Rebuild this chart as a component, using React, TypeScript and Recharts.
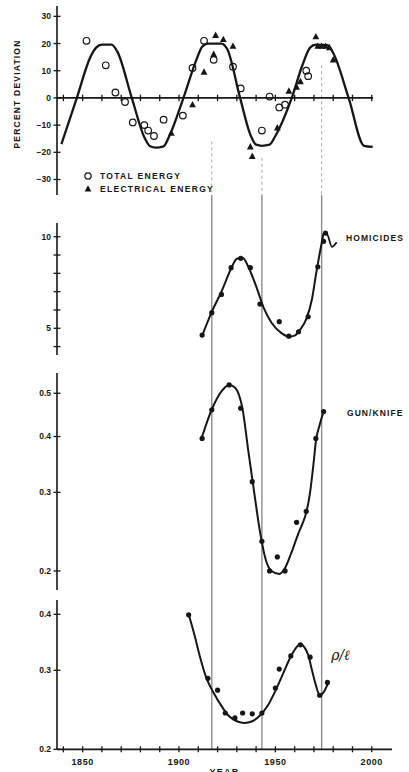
import React from 'react';
import {
  ComposedChart,
  Line,
  Scatter,
  XAxis,
  YAxis,
  ReferenceLine,
  ReferenceDot,
  Legend,
} from 'recharts';

type Pt = [number, number];

// ---- shared time axis ----
const decadeTicks = [1840, 1850, 1860, 1870, 1880, 1890, 1900, 1910, 1920, 1930, 1940, 1950, 1960, 1970, 1980, 1990, 2000];
const labelledYears = [1850, 1900, 1950, 2000];
const turningYears = [1917, 1943, 1974];
// where each turning-point guide starts inside the energy panel (percent deviation)
const guideStarts = [-16, -22, 12];

// ---- energy consumption, percent deviation from trend ----
const energySeriesNames = ['TOTAL ENERGY', 'ELECTRICAL ENERGY'];
const energyTicks = [-30, -20, -10, 0, 10, 20, 30];
const energyWave: Pt[] = [
  [1839, -17], [1847, 0], [1854, 15], [1857, 18.5], [1860, 19.6], [1865, 19.6], [1868, 17],
  [1875.5, 0], [1882, -14.5], [1885, -17.8], [1888, -18.3], [1892, -17.8], [1895, -14],
  [1902.3, 0], [1909, 14], [1912, 18.8], [1915, 20], [1922, 20], [1925, 18],
  [1931.7, 0], [1937, -13.5], [1940, -17.2], [1943, -17.6], [1947, -17.2], [1950, -14],
  [1958.5, 0], [1964, 12], [1968, 18.5], [1971, 19.6], [1977, 19.4], [1980, 16.5],
  [1988, 0], [1996, -17.6], [2000.5, -18],
];
const totalEnergy: Pt[] = [
  [1852, 21], [1862, 12], [1867, 2], [1872, -1.5], [1876, -9], [1882, -10], [1884, -12],
  [1887, -14], [1892, -8], [1902, -6.5], [1907, 11], [1913, 21], [1918, 14], [1928, 11.5],
  [1932, 3.5], [1943, -12], [1947, 0.5], [1952, -3.5], [1955, -2.5], [1966, 10], [1967, 8],
];
const electricalEnergy: Pt[] = [
  [1896, -13], [1907, -2.5], [1913, 9.5], [1918, 16], [1919, 23], [1923, 21.5], [1928, 19],
  [1937, -18], [1938, -21.5], [1951, -11], [1957, 2.5], [1961, 4], [1963, 6], [1971, 22.5],
  [1972, 19], [1974, 19], [1976, 19], [1978, 18.5], [1980, 14],
];

// ---- homicides ----
const homicideTicks = [4, 5, 6, 7, 8, 9, 10];
const homicideLabels = [5, 10];
const homicideTrend: Pt[] = [
  [1912, 4.6], [1917, 5.9], [1922, 7.0], [1927, 8.25], [1930, 8.8], [1933, 8.85], [1936, 8.35],
  [1940, 7.3], [1944, 6.1], [1948, 5.3], [1953, 4.75], [1957, 4.55], [1960, 4.6], [1963, 4.95],
  [1966, 5.5], [1969, 6.6], [1971, 7.9], [1973, 9.1], [1975, 10.2],
];
const homicidePoints: Pt[] = [
  [1912, 4.63], [1917, 5.85], [1922, 6.85], [1927, 8.31], [1932, 8.82], [1937, 8.31],
  [1942, 6.32], [1952, 5.36], [1957, 4.57], [1962, 4.81], [1967, 5.63], [1972, 8.36],
  [1975, 9.75], [1976, 10.2],
];
const homicideHook: Pt[] = [[1975, 10.2], [1977, 10.1], [1979.3, 9.45], [1981.8, 9.7]];

// ---- gun / knife share ----
const gunKnifeTicks = [0.2, 0.3, 0.4, 0.5];
const gunKnifeTrend: Pt[] = [
  [1912, 0.4], [1917, 0.46], [1922, 0.505], [1926, 0.522], [1929, 0.515], [1933, 0.46],
  [1936, 0.37], [1939, 0.3], [1942, 0.245], [1945, 0.212], [1948, 0.2], [1952, 0.197],
  [1955, 0.203], [1958, 0.218], [1962, 0.243], [1964, 0.255], [1966, 0.27], [1968, 0.3],
  [1970, 0.355], [1971, 0.39], [1973, 0.425], [1975, 0.455],
];
const gunKnifePoints: Pt[] = [
  [1912, 0.396], [1917, 0.459], [1926, 0.522], [1932, 0.463], [1938, 0.317], [1943, 0.233],
  [1947, 0.2], [1951, 0.215], [1955, 0.2], [1961, 0.257], [1966, 0.272], [1971, 0.396], [1975, 0.455],
];

// ---- ratio panel ----
const ratioTicks = [0.2, 0.3, 0.4];
const ratioTrend: Pt[] = [
  [1905, 0.4], [1908, 0.36], [1911, 0.32], [1914, 0.29], [1918, 0.267], [1922, 0.25],
  [1926, 0.237], [1930, 0.231], [1934, 0.229], [1938, 0.231], [1942, 0.238], [1946, 0.25],
  [1950, 0.27], [1954, 0.295], [1958, 0.322], [1961, 0.338], [1963, 0.344], [1965, 0.338],
  [1967, 0.325], [1969, 0.3], [1971, 0.278], [1973, 0.264], [1975, 0.268], [1977.5, 0.282],
];
const ratioPoints: Pt[] = [
  [1905, 0.399], [1915, 0.288], [1920, 0.271], [1924, 0.241], [1929, 0.235], [1933, 0.241],
  [1938, 0.24], [1943, 0.241], [1950, 0.274], [1952, 0.302], [1958, 0.323], [1963, 0.342],
  [1968, 0.321], [1973, 0.264], [1977, 0.282],
];

// ---- styling ----
const INK = '#161616';
const GUIDE = '#8c8c8c';
const WIDTH = 409;
const YEAR_DOMAIN: [number, number] = [1836.7, 2010.5];
const AXIS_W = 57;
const RIGHT_GAP = 17;
const FONT = '"Liberation Sans", Arial, Helvetica, sans-serif';

const rows = (pts: Pt[]) => pts.map(([year, v]) => ({ year, v }));

const fmtSigned = (v: number) => (v < 0 ? `\u2212${-v}` : `${v}`);
const fmtDec = (v: number) => v.toFixed(1);

function makeYTick(labels: number[] | null, fmt: (v: number) => string) {
  return (props: any) => {
    const { x, y, payload } = props;
    const v = payload.value as number;
    const show = !labels || labels.some((l) => Math.abs(l - v) < 1e-9);
    return (
      <g>
        <line x1={x - 3.5} x2={x + 3.5} y1={y} y2={y} stroke={INK} strokeWidth={1.3} />
        {show && (
          <text
            x={x - 6}
            y={y}
            dy="0.35em"
            textAnchor="end"
            fontSize={8.5}
            fontWeight={700}
            fontFamily={FONT}
            fill={INK}
          >
            {fmt(v)}
          </text>
        )}
      </g>
    );
  };
}

const YearTick = (props: any) => {
  const { x, y, payload } = props;
  const show = labelledYears.includes(payload.value);
  return (
    <g>
      <line x1={x} x2={x} y1={y - 3} y2={y + 3} stroke={INK} strokeWidth={1.3} />
      {show && (
        <text
          x={x}
          y={y + 16}
          textAnchor="middle"
          fontSize={9}
          fontWeight={700}
          fontFamily={FONT}
          letterSpacing={0.6}
          fill={INK}
        >
          {payload.value}
        </text>
      )}
    </g>
  );
};

const openCircle = (p: any) => (
  <circle cx={p.cx} cy={p.cy} r={3.3} fill="none" stroke={INK} strokeWidth={1.2} />
);
const filledTriangle = (p: any) => (
  <polygon
    points={`${p.cx},${p.cy - 3.8} ${p.cx - 3.4},${p.cy + 2.6} ${p.cx + 3.4},${p.cy + 2.6}`}
    fill={INK}
  />
);
const filledDot = (p: any) => <circle cx={p.cx} cy={p.cy} r={2.6} fill={INK} />;

const renderEnergyLegend = (props: any) => {
  const items = (props.payload || [])
    .filter((e: any) => energySeriesNames.includes(e.value))
    .sort((a: any, b: any) => energySeriesNames.indexOf(a.value) - energySeriesNames.indexOf(b.value));
  return (
    <div style={{ fontFamily: FONT, color: INK }}>
      {items.map((e: any) => (
        <div key={e.value} style={{ display: 'flex', alignItems: 'center', height: 12.5 }}>
          <svg width={12} height={10} style={{ display: 'block' }}>
            {e.type === 'triangle' ? (
              <polygon points="6,1.2 2.6,7.6 9.4,7.6" fill={INK} />
            ) : (
              <circle cx={6} cy={5} r={3.2} fill="none" stroke={INK} strokeWidth={1.2} />
            )}
          </svg>
          <span style={{ marginLeft: 6, fontSize: 8.5, fontWeight: 700, letterSpacing: 1.3, whiteSpace: 'nowrap' }}>
            {e.value}
          </span>
        </div>
      ))}
    </div>
  );
};

const panelLabel = (value: string) => ({
  value,
  position: 'right' as const,
  offset: 0,
  fill: INK,
  fontSize: 8.5,
  fontWeight: 700,
  fontFamily: FONT,
  letterSpacing: 1.1,
});

const hiddenYearAxis = (
  <XAxis hide type="number" dataKey="year" domain={YEAR_DOMAIN} allowDataOverflow />
);

export default function App() {
  return (
    <div
      style={{
        position: 'absolute',
        left: 0,
        top: 0,
        width: WIDTH,
        height: 772,
        overflow: 'hidden',
        background: '#ffffff',
      }}
    >
      {/* turning-point guides running down through the lower panels */}
      <div style={{ position: 'absolute', left: 0, top: 195 }}>
        <ComposedChart
          width={WIDTH}
          height={554}
          margin={{ top: 0, right: RIGHT_GAP, bottom: 0, left: AXIS_W }}
        >
          {hiddenYearAxis}
          <YAxis hide type="number" dataKey="v" domain={[0, 1]} allowDataOverflow />
          <Line
            data={rows(turningYears.map((y) => [y, 0.5] as Pt))}
            dataKey="v"
            stroke="none"
            dot={false}
            legendType="none"
            isAnimationActive={false}
          />
          {turningYears.map((yr) => (
            <ReferenceLine key={yr} x={yr} stroke={GUIDE} strokeWidth={1.4} />
          ))}
        </ComposedChart>
      </div>

      {/* energy panel */}
      <div style={{ position: 'absolute', left: 0, top: 0 }}>
        <ComposedChart
          width={WIDTH}
          height={200}
          margin={{ top: 6, right: RIGHT_GAP, bottom: 5, left: 0 }}
        >
          {hiddenYearAxis}
          <YAxis
            type="number"
            dataKey="v"
            width={AXIS_W}
            domain={[-35.7, 33.8]}
            allowDataOverflow
            ticks={energyTicks}
            interval={0}
            tickSize={0}
            tickMargin={0}
            tickLine={false}
            axisLine={{ stroke: INK, strokeWidth: 1.6 }}
            tick={makeYTick(null, fmtSigned)}
            label={{
              content: () => (
                <text
                  transform="translate(20,94) rotate(-90)"
                  textAnchor="middle"
                  fontSize={8.5}
                  fontWeight={700}
                  fontFamily={FONT}
                  letterSpacing={1.2}
                  fill={INK}
                >
                  PERCENT DEVIATION
                </text>
              ),
            }}
          />
          {turningYears.map((yr, i) => (
            <ReferenceLine
              key={`g${yr}`}
              segment={[{ x: yr, y: guideStarts[i] }, { x: yr, y: -35.7 }]}
              stroke="#a8a8a8"
              strokeWidth={1}
              strokeDasharray="3 3"
            />
          ))}
          <ReferenceLine
            segment={[{ x: 1836.8, y: 0 }, { x: 2000.7, y: 0 }]}
            stroke={INK}
            strokeWidth={1.6}
          />
          {decadeTicks.map((yr) => (
            <ReferenceLine
              key={`t${yr}`}
              segment={[{ x: yr, y: -1.2 }, { x: yr, y: 1.2 }]}
              stroke={INK}
              strokeWidth={1.3}
            />
          ))}
          <Line
            data={rows(energyWave)}
            dataKey="v"
            type="monotone"
            stroke={INK}
            strokeWidth={2.3}
            dot={false}
            legendType="none"
            isAnimationActive={false}
          />
          <Scatter
            name={energySeriesNames[0]}
            data={rows(totalEnergy)}
            dataKey="v"
            legendType="circle"
            shape={openCircle}
            isAnimationActive={false}
          />
          <Scatter
            name={energySeriesNames[1]}
            data={rows(electricalEnergy)}
            dataKey="v"
            legendType="triangle"
            shape={filledTriangle}
            isAnimationActive={false}
          />
          <Legend
            layout="vertical"
            align="center"
            verticalAlign="middle"
            content={renderEnergyLegend}
            wrapperStyle={{ position: 'absolute', left: 82, top: 170, width: 170, height: 26 }}
          />
        </ComposedChart>
      </div>

      {/* homicides panel */}
      <div style={{ position: 'absolute', left: 0, top: 215 }}>
        <ComposedChart
          width={WIDTH}
          height={150}
          margin={{ top: 8, right: RIGHT_GAP, bottom: 10, left: 0 }}
        >
          {hiddenYearAxis}
          <YAxis
            type="number"
            dataKey="v"
            width={AXIS_W}
            domain={[3.54, 10.75]}
            allowDataOverflow
            ticks={homicideTicks}
            interval={0}
            tickSize={0}
            tickMargin={0}
            tickLine={false}
            axisLine={{ stroke: INK, strokeWidth: 1.6 }}
            tick={makeYTick(homicideLabels, (v) => `${v}`)}
          />
          <Line
            data={rows(homicideTrend)}
            dataKey="v"
            type="monotone"
            stroke={INK}
            strokeWidth={2}
            dot={false}
            legendType="none"
            isAnimationActive={false}
          />
          <Line
            data={rows(homicideHook)}
            dataKey="v"
            type="monotone"
            stroke={INK}
            strokeWidth={1.8}
            dot={false}
            legendType="none"
            isAnimationActive={false}
          />
          <Scatter data={rows(homicidePoints)} dataKey="v" shape={filledDot} isAnimationActive={false} />
          <ReferenceDot
            x={1986.1}
            y={9.93}
            r={1}
            fill="none"
            stroke="none"
            label={panelLabel('HOMICIDES')}
          />
        </ComposedChart>
      </div>

      {/* gun / knife panel */}
      <div style={{ position: 'absolute', left: 0, top: 365 }}>
        <ComposedChart
          width={WIDTH}
          height={235}
          margin={{ top: 8, right: RIGHT_GAP, bottom: 10, left: 0 }}
        >
          {hiddenYearAxis}
          <YAxis
            type="number"
            dataKey="v"
            scale="log"
            width={AXIS_W}
            domain={[0.1813, 0.555]}
            allowDataOverflow
            ticks={gunKnifeTicks}
            interval={0}
            tickSize={0}
            tickMargin={0}
            tickLine={false}
            axisLine={{ stroke: INK, strokeWidth: 1.6 }}
            tick={makeYTick(null, fmtDec)}
          />
          <Line
            data={rows(gunKnifeTrend)}
            dataKey="v"
            type="monotone"
            stroke={INK}
            strokeWidth={2}
            dot={false}
            legendType="none"
            isAnimationActive={false}
          />
          <Scatter data={rows(gunKnifePoints)} dataKey="v" shape={filledDot} isAnimationActive={false} />
          <ReferenceDot
            x={1986.6}
            y={0.4518}
            r={1}
            fill="none"
            stroke="none"
            label={panelLabel('GUN/KNIFE')}
          />
        </ComposedChart>
      </div>

      {/* ratio panel with the year axis */}
      <div style={{ position: 'absolute', left: 0, top: 592 }}>
        <ComposedChart
          width={WIDTH}
          height={180}
          margin={{ top: 8, right: RIGHT_GAP, bottom: 0, left: 0 }}
        >
          <XAxis
            type="number"
            dataKey="year"
            domain={YEAR_DOMAIN}
            allowDataOverflow
            ticks={decadeTicks}
            interval={0}
            height={22.7}
            tickSize={0}
            tickMargin={0}
            tickLine={false}
            axisLine={{ stroke: INK, strokeWidth: 1.8 }}
            tick={YearTick}
            label={{
              value: 'YEAR',
              position: 'bottom',
              offset: -3,
              fill: INK,
              fontSize: 9,
              fontWeight: 700,
              fontFamily: FONT,
              letterSpacing: 1.2,
            }}
          />
          <YAxis
            type="number"
            dataKey="v"
            scale="log"
            width={AXIS_W}
            domain={[0.2, 0.4305]}
            allowDataOverflow
            ticks={ratioTicks}
            interval={0}
            tickSize={0}
            tickMargin={0}
            tickLine={false}
            axisLine={{ stroke: INK, strokeWidth: 1.6 }}
            tick={makeYTick(null, fmtDec)}
          />
          <Line
            data={rows(ratioTrend)}
            dataKey="v"
            type="monotone"
            stroke={INK}
            strokeWidth={2}
            dot={false}
            legendType="none"
            isAnimationActive={false}
          />
          <Scatter data={rows(ratioPoints)} dataKey="v" shape={filledDot} isAnimationActive={false} />
          <ReferenceDot
            x={1978.4}
            y={0.3247}
            r={1}
            fill="none"
            stroke="none"
            label={{
              value: '\u03c1/\u2113',
              position: 'right',
              offset: 0,
              fill: INK,
              fontSize: 14,
              fontStyle: 'italic',
              fontFamily: '"DejaVu Serif", "Liberation Serif", serif',
            }}
          />
        </ComposedChart>
      </div>
    </div>
  );
}
